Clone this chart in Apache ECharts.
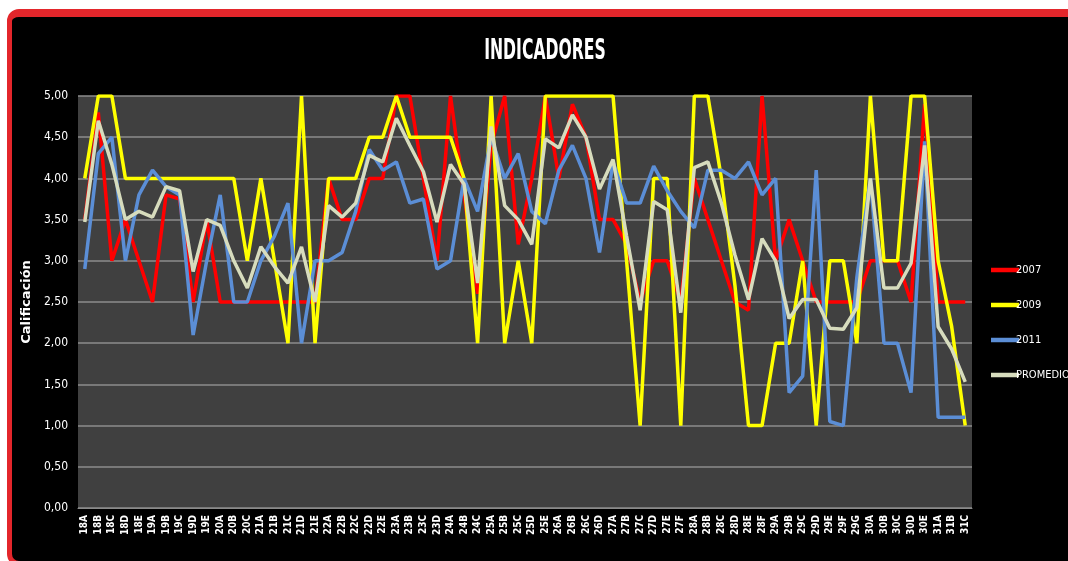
<!DOCTYPE html>
<html>
<head>
<meta charset="utf-8">
<title>INDICADORES</title>
<script src="https://cdn.jsdelivr.net/npm/echarts@6/dist/echarts.min.js"></script>
<style>
  html, body { margin: 0; padding: 0; background: #fff; }
  #frame {
    position: absolute; left: 7px; top: 9px; width: 1070px; height: 544px;
    background: #000; border: 5px solid #e3262b; border-top-width: 8px;
    border-radius: 12px;
  }
  #main { position: absolute; left: 0; top: 0; width: 1068px; height: 561px; }
</style>
</head>
<body>
<div id="frame"></div>
<div id="main"></div>
<script>
// categorias (eje x)
var categorias = ["18A","18B","18C","18D","18E","19A","19B","19C","19D","19E",
  "20A","20B","20C","21A","21B","21C","21D","21E","22A","22B","22C","22D","22E",
  "23A","23B","23C","23D","24A","24B","24C","25A","25B","25C","25D","25E",
  "26A","26B","26C","26D","27A","27B","27C","27D","27E","27F",
  "28A","28B","28C","28D","28E","28F","29A","29B","29C","29D","29E","29F","29G",
  "30A","30B","30C","30D","30E","31A","31B","31C"];

var s2007 = [3.5,4.8,3.0,3.5,3.0,2.5,3.8,3.75,2.5,3.5,
  2.5,2.5,2.5,2.5,2.5,2.5,2.5,2.5,4.0,3.5,
  3.5,4.0,4.0,5.0,5.0,4.0,3.0,5.0,3.8,2.6,
  4.4,5.0,3.2,4.0,5.0,4.0,4.9,4.5,3.5,3.5,
  3.2,2.5,3.0,3.0,2.5,4.0,3.5,3.0,2.5,2.4,
  5.0,3.0,3.5,3.0,2.5,2.5,2.5,2.5,3.0,3.0,
  3.0,2.5,4.9,2.5,2.5,2.5];

var s2009 = [4.0,5.0,5.0,4.0,4.0,4.0,4.0,4.0,4.0,4.0,
  4.0,4.0,3.0,4.0,3.0,2.0,5.0,2.0,4.0,4.0,
  4.0,4.5,4.5,5.0,4.5,4.5,4.5,4.5,4.0,2.0,
  5.0,2.0,3.0,2.0,5.0,5.0,5.0,5.0,5.0,5.0,
  3.0,1.0,4.0,4.0,1.0,5.0,5.0,4.0,2.7,1.0,
  1.0,2.0,2.0,3.0,1.0,3.0,3.0,2.0,5.0,3.0,
  3.0,5.0,5.0,3.0,2.2,1.0];

var s2011 = [2.9,4.3,4.5,3.0,3.8,4.1,3.9,3.8,2.1,3.0,
  3.8,2.5,2.5,3.0,3.3,3.7,2.0,3.0,3.0,3.1,
  3.6,4.35,4.1,4.2,3.7,3.75,2.9,3.0,4.0,3.6,
  4.5,4.0,4.3,3.6,3.45,4.1,4.4,4.0,3.1,4.2,
  3.7,3.7,4.15,3.85,3.6,3.4,4.1,4.1,4.0,4.2,
  3.8,4.0,1.4,1.6,4.1,1.05,1.0,2.8,4.0,2.0,
  2.0,1.4,4.45,1.1,1.1,1.1];

var promedio = [3.47,4.7,4.17,3.5,3.6,3.53,3.9,3.85,2.87,3.5,
  3.43,3.0,2.67,3.17,2.93,2.73,3.17,2.5,3.67,3.53,
  3.7,4.28,4.2,4.73,4.4,4.08,3.47,4.17,3.93,2.73,
  4.63,3.67,3.5,3.2,4.48,4.37,4.77,4.5,3.87,4.23,
  3.3,2.4,3.72,3.62,2.37,4.13,4.2,3.7,3.07,2.53,
  3.27,3.0,2.3,2.53,2.53,2.18,2.17,2.43,4.0,2.67,
  2.67,2.97,4.4,2.2,1.93,1.53];

var narrow = "'Liberation Sans Narrow', 'DejaVu Sans Condensed', 'Liberation Sans', sans-serif";

function serie(nombre, datos, color) {
  return {
    name: nombre,
    type: "line",
    data: datos,
    showSymbol: false,
    symbol: "none",
    lineStyle: { width: 3.5, color: color },
    itemStyle: { color: color }
  };
}

var myChart = echarts.init(document.getElementById("main"));
var option = {
  backgroundColor: "transparent",
  animation: false,
  // titulo angosto como en el original
  graphic: [{
    type: "text",
    x: 545,
    y: 51,
    scaleX: 0.6,
    style: {
      text: "INDICADORES",
      fill: "#fff",
      font: "bold 29px " + narrow,
      textAlign: "center",
      textVerticalAlign: "middle"
    }
  }],
  legend: {
    orient: "vertical",
    left: 986,
    top: 258,
    itemGap: 21,
    itemWidth: 28,
    itemHeight: 14,
    icon: "path://M0,5 L28,5 L28,9.5 L0,9.5 Z",
    textStyle: { color: "#fff", fontSize: 11, fontFamily: narrow, padding: [0, 0, 0, -8], lineHeight: 14 },
    data: ["2007", "2009", "2011", "PROMEDIO"]
  },
  grid: {
    left: 78,
    top: 96,
    width: 894,
    height: 412,
    show: true,
    backgroundColor: "#404040",
    borderWidth: 0
  },
  xAxis: {
    type: "category",
    boundaryGap: true,
    data: categorias,
    axisTick: { show: false },
    axisLine: { lineStyle: { color: "#8a8a8a" } },
    axisLabel: {
      interval: 0,
      rotate: 90,
      color: "#fff",
      fontSize: 10,
      fontWeight: "bold",
      fontFamily: narrow,
      margin: 7
    }
  },
  yAxis: {
    type: "value",
    min: 0,
    max: 5,
    interval: 0.5,
    name: "Calificación",
    nameLocation: "middle",
    nameGap: 37,
    nameTextStyle: { color: "#fff", fontSize: 13, fontWeight: "bold", fontFamily: "'DejaVu Sans', sans-serif" },
    axisLine: { show: false },
    axisTick: { show: false },
    splitLine: { lineStyle: { color: "#8c8c8c", width: 1.5 } },
    axisLabel: {
      color: "#fff",
      fontSize: 12,
      fontFamily: narrow,
      margin: 10,
      formatter: function (v) { return v.toFixed(2).replace(".", ","); }
    }
  },
  series: [
    serie("2007", s2007, "#ff0000"),
    serie("2009", s2009, "#ffff00"),
    serie("2011", s2011, "#5b8ed6"),
    serie("PROMEDIO", promedio, "#d7dcbd")
  ]
};
myChart.setOption(option);
</script>
</body>
</html>
